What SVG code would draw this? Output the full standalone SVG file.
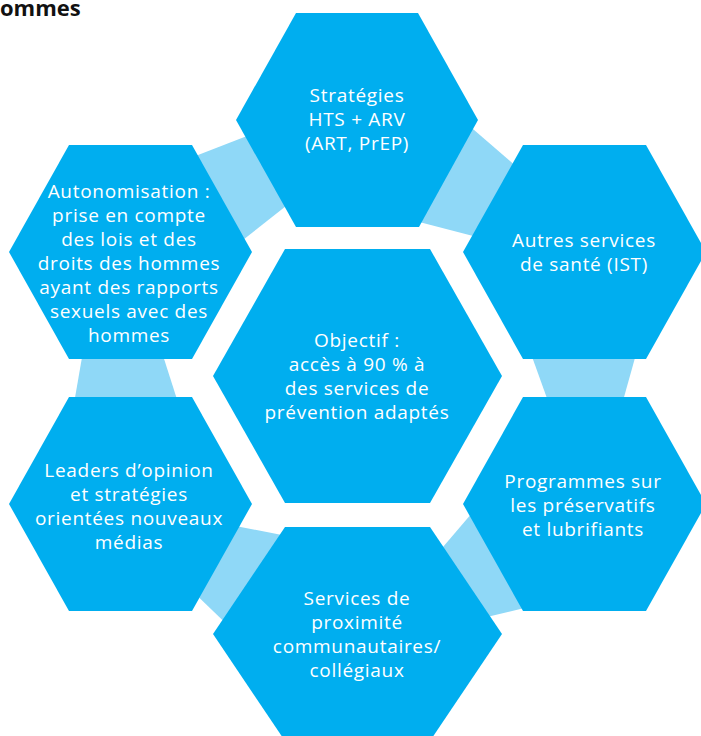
<svg xmlns="http://www.w3.org/2000/svg" width="701" height="736" viewBox="0 0 701 736">
<style>
.hex{fill:#00AEEF}
.band{fill:#8FD8F7}
.t{font-family:"Open Sans","Liberation Sans",sans-serif;font-size:19px;letter-spacing:0.7px;fill:#ffffff;text-anchor:middle}
.title{font-family:"Open Sans","Liberation Sans",sans-serif;font-size:22px;font-weight:700;fill:#111111}
</style>
<rect width="701" height="736" fill="#ffffff"/>
<text class="title" x="0" y="16">ommes</text>
<g id="connectors">
<polygon class="band" points="180,162 270,127 300,195 220,258"/>
<polygon class="band" points="455,113.5 540,187 500,243 400,217"/>
<polygon class="band" points="526,340 640,340 619,415 553,415"/>
<polygon class="band" points="85,340 158,340 182,415 72,415"/>
<polygon class="band" points="215,522 310,540.5 240,637 185,584"/>
<polygon class="band" points="425,568 490,492 545,603 470,621"/>
</g>
<g id="node-strategies">
<polygon class="hex" points="236,120 296,13 418,13 478,120 419,227 296,227"/>
<text class="t" x="357" y="102">Stratégies</text>
<text class="t" x="357" y="126">HTS + ARV</text>
<text class="t" x="357" y="150">(ART, PrEP)</text>
</g>
<g id="node-autonomisation">
<polygon class="hex" points="9,252 69,145 192,145 252,252 192,359 69,359"/>
<text class="t" x="129" y="198">Autonomisation :</text>
<text class="t" x="129" y="222">prise en compte</text>
<text class="t" x="129" y="246">des lois et des</text>
<text class="t" x="129" y="270">droits des hommes</text>
<text class="t" x="129" y="294">ayant des rapports</text>
<text class="t" x="129" y="318">sexuels avec des</text>
<text class="t" x="129" y="342">hommes</text>
</g>
<g id="node-autres">
<polygon class="hex" points="463,252 523,145 646,145 706,252 646,359 523,359"/>
<text class="t" x="584" y="247">Autres services</text>
<text class="t" x="584" y="271">de santé (IST)</text>
</g>
<g id="node-objectif">
<polygon class="hex" points="213,376 285,249 430,249 502,376 430,503 285,503"/>
<text class="t" x="357" y="347">Objectif :</text>
<text class="t" x="357" y="371">accès à 90 % à</text>
<text class="t" x="357" y="395">des services de</text>
<text class="t" x="357" y="419">prévention adaptés</text>
</g>
<g id="node-leaders">
<polygon class="hex" points="9,504 69,397 192,397 252,504 192,611 69,611"/>
<text class="t" x="129" y="477">Leaders d’opinion</text>
<text class="t" x="129" y="501">et stratégies</text>
<text class="t" x="129" y="525">orientées nouveaux</text>
<text class="t" x="129" y="549">médias</text>
</g>
<g id="node-programmes">
<polygon class="hex" points="463,504 523,397 646,397 706,504 646,611 523,611"/>
<text class="t" x="583" y="488">Programmes sur</text>
<text class="t" x="583" y="512">les préservatifs</text>
<text class="t" x="583" y="536">et lubrifiants</text>
</g>
<g id="node-services">
<polygon class="hex" points="213,634 285,527 430,527 502,634 430,741 285,741"/>
<text class="t" x="357" y="605">Services de</text>
<text class="t" x="357" y="629">proximité</text>
<text class="t" x="357" y="653">communautaires/</text>
<text class="t" x="357" y="677">collégiaux</text>
</g>
</svg>
